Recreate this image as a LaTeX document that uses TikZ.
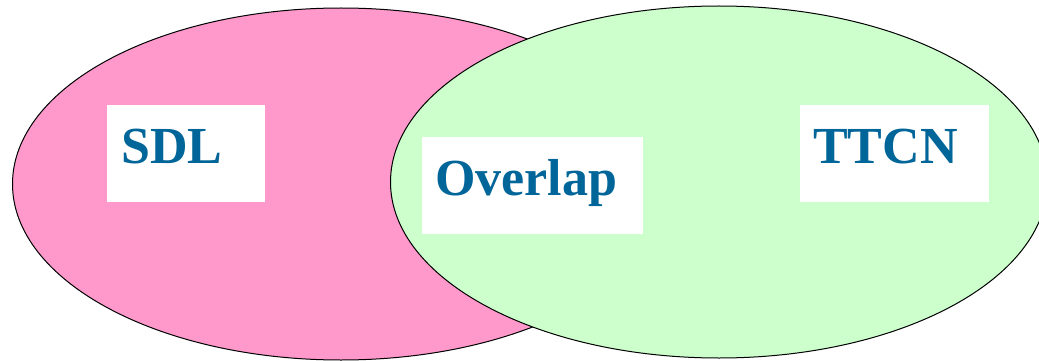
\documentclass[tikz,border=0pt]{standalone}
\usepackage{fontspec}
\setmainfont{Liberation Serif}
\usetikzlibrary{shapes.geometric}

\definecolor{setpink}{HTML}{FF99CC}
\definecolor{setgreen}{HTML}{CCFFCC}
\definecolor{labelblue}{HTML}{006699}

\begin{document}
\begin{tikzpicture}[x=1pt,y=-1pt]
        \tikzset{
            style set/.style={ellipse,draw=black,line width=1pt,
                minimum width=657pt,minimum height=352pt,inner sep=0pt},
            style label/.style={anchor=north west,fill=white,align=left,
                inner ysep=0pt,text height=58pt,text depth=39pt,
                text=labelblue,font=\fontsize{52}{60}\selectfont\bfseries}
        };
        \clip (0,0) rectangle (1039,361);
        % the two sets, the green one drawn over the pink one
        \node[style set,fill=setpink] (sdlset) at (341,184) {};
        \node[style set,fill=setgreen] (ttcnset) at (719,182) {};
        % white label boxes
        \node[style label,inner xsep=14pt,text width=130pt] (sdl) at (107,105) {SDL};
        \node[style label,inner xsep=13pt,text width=195pt] (overlap) at (422,137) {Overlap};
        \node[style label,inner xsep=13pt,text width=163pt] (ttcn) at (800,105) {TTCN};
    \end{tikzpicture}
\end{document}
